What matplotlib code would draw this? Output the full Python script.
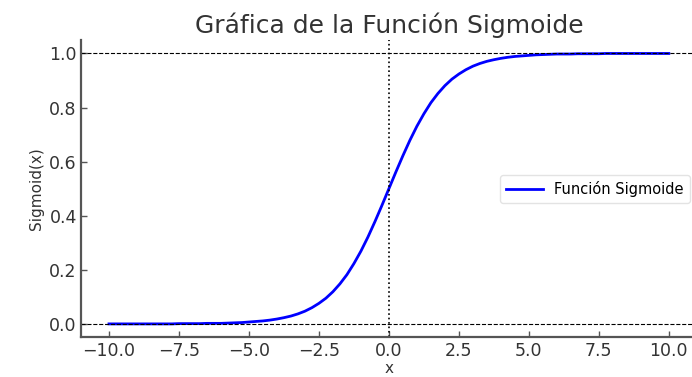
import matplotlib
matplotlib.use("Agg")
import matplotlib.pyplot as plt

# values (x every 0.25)
x_vals = [-10.0, -9.75, -9.5, -9.25, -9.0, -8.75, -8.5, -8.25, -8.0, -7.75,
          -7.5, -7.25, -7.0, -6.75, -6.5, -6.25, -6.0, -5.75, -5.5, -5.25,
          -5.0, -4.75, -4.5, -4.25, -4.0, -3.75, -3.5, -3.25, -3.0, -2.75,
          -2.5, -2.25, -2.0, -1.75, -1.5, -1.25, -1.0, -0.75, -0.5, -0.25,
          0.0, 0.25, 0.5, 0.75, 1.0, 1.25, 1.5, 1.75, 2.0, 2.25,
          2.5, 2.75, 3.0, 3.25, 3.5, 3.75, 4.0, 4.25, 4.5, 4.75,
          5.0, 5.25, 5.5, 5.75, 6.0, 6.25, 6.5, 6.75, 7.0, 7.25,
          7.5, 7.75, 8.0, 8.25, 8.5, 8.75, 9.0, 9.25, 9.5, 9.75, 10.0]
y_vals = [0.000, 0.000, 0.000, 0.000, 0.000, 0.000, 0.000, 0.000, 0.000, 0.000,
          0.001, 0.001, 0.001, 0.001, 0.002, 0.002, 0.002, 0.003, 0.004, 0.005,
          0.007, 0.009, 0.011, 0.014, 0.018, 0.023, 0.029, 0.037, 0.047, 0.060,
          0.076, 0.095, 0.119, 0.148, 0.182, 0.223, 0.269, 0.321, 0.378, 0.438,
          0.500, 0.562, 0.622, 0.679, 0.731, 0.777, 0.818, 0.852, 0.881, 0.905,
          0.924, 0.940, 0.953, 0.963, 0.971, 0.977, 0.982, 0.986, 0.989, 0.991,
          0.993, 0.995, 0.996, 0.997, 0.998, 0.998, 0.998, 0.999, 0.999, 0.999,
          0.999, 1.000, 1.000, 1.000, 1.000, 1.000, 1.000, 1.000, 1.000, 1.000, 1.000]

title = "Gráfica de la Función Sigmoide"
series_label = "Función Sigmoide"
xlabel = "x"
ylabel = "Sigmoid(x)"

fig = plt.figure(figsize=(6.92, 3.77), dpi=100)
ax = fig.add_axes([0.117, 0.105, 0.890, 0.789])

ax.plot(x_vals, y_vals, color="blue", linewidth=2, label=series_label)
ax.axhline(0, color="black", linestyle="--", linewidth=0.8)
ax.axhline(1, color="black", linestyle="--", linewidth=0.8)
ax.axvline(0, color="black", linestyle=":", linewidth=1.2)

ax.set_title(title, fontsize=18, color="#333333", pad=5)
ax.set_xlabel(xlabel, fontsize=11, color="#333333", labelpad=1)
ax.set_ylabel(ylabel, fontsize=11, color="#333333", labelpad=4)

for s in ["top", "right"]:
    ax.spines[s].set_visible(False)
for s in ["left", "bottom"]:
    ax.spines[s].set_color("#555555")
    ax.spines[s].set_linewidth(1.6)
ax.tick_params(direction="in", length=4, width=1, colors="#555555",
               labelcolor="#333333", labelsize=12.5, pad=3)

ax.legend(loc="center right", fontsize=10.5, frameon=True, framealpha=0.8,
          edgecolor="#dddddd", handlelength=2.5)

fig.savefig("out.png", dpi=100)
